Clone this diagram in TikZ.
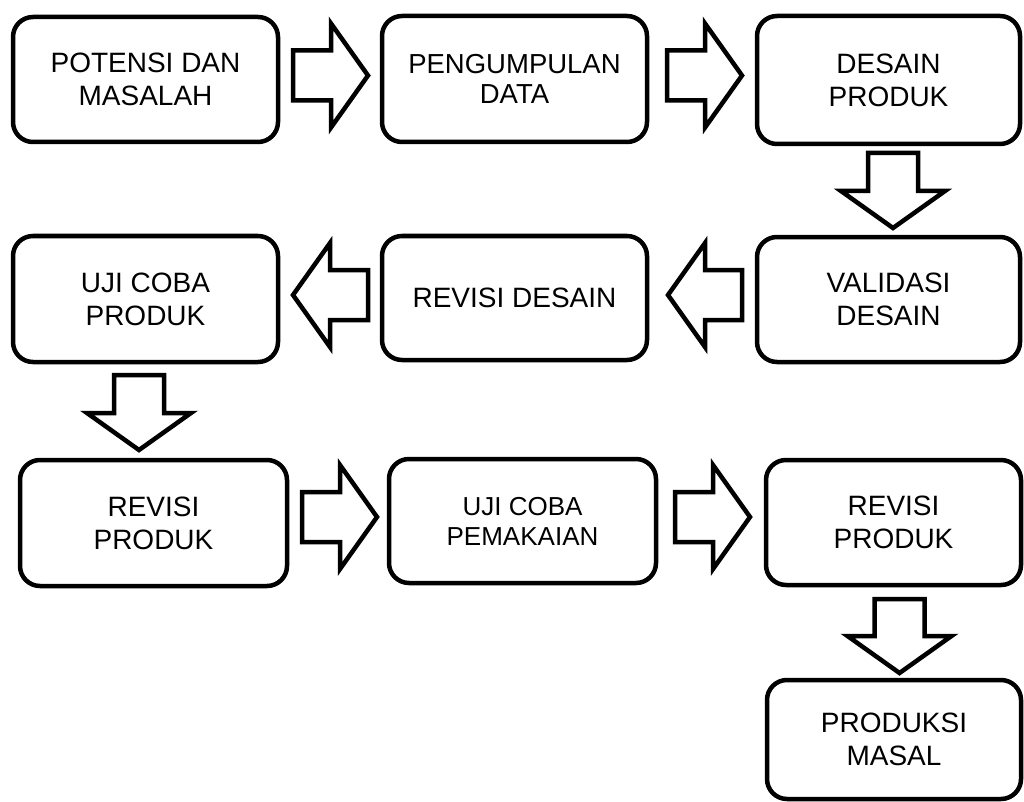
\documentclass[tikz,border=0pt]{standalone}
\usepackage{fontspec}
\setmainfont{Liberation Sans}
\usetikzlibrary{calc}
\tikzset{
  box/.style={draw, line width=4.5pt, rounded corners=20pt, outer sep=0pt, inner sep=0pt,
    align=center, font=\fontsize{28}{33}\selectfont},
  midtext/.style={font=\fontsize{27.5}{30}\selectfont},
  smalltext/.style={font=\fontsize{26}{30}\selectfont},
  blk/.style={draw, line width=4.5pt, fill=white, line join=miter, miter limit=10},
}
\newcommand{\blockarrow}[2]{%
  \coordinate (hb) at ($(#2)!37pt!(#1)$);
  \draw[blk] ($(#1)!25pt!90:(#2)$) -- ($(hb)!25pt!90:(#2)$) -- ($(hb)!52pt!90:(#2)$) -- (#2)
    -- ($(hb)!52pt!-90:(#2)$) -- ($(hb)!25pt!-90:(#2)$) -- ($(#1)!25pt!-90:(#2)$) -- cycle;
}
\begin{document}
\begin{tikzpicture}[x=1pt, y=-1pt]
\useasboundingbox (0,0) rectangle (1024,802);
% row 1
\node[box, minimum width=265pt, minimum height=125pt] (A) at (145.5,79.5) {POTENSI DAN\\MASALAH};
\node[box, midtext, minimum width=265pt, minimum height=126pt] (B) at (514.5,79) {PENGUMPULAN\\DATA};
\node[box, minimum width=263pt, minimum height=128pt] (C) at (888.5,80) {DESAIN\\PRODUK};
% row 2
\node[box, minimum width=265pt, minimum height=126pt] (D) at (145.5,299) {UJI COBA\\PRODUK};
\node[box, minimum width=265pt, minimum height=124pt] (E) at (514.5,298) {REVISI DESAIN};
\node[box, minimum width=263pt, minimum height=125pt] (F) at (888.5,299.5) {VALIDASI\\DESAIN};
% row 3
\node[box, minimum width=267pt, minimum height=126pt] (G) at (153.5,523) {REVISI\\PRODUK};
\node[box, smalltext, minimum width=267pt, minimum height=124pt] (H) at (522.5,521) {UJI COBA\\PEMAKAIAN};
\node[box, minimum width=255pt, minimum height=125pt] (I) at (893.5,522.5) {REVISI\\PRODUK};
% row 4
\node[box, minimum width=254pt, minimum height=119pt] (J) at (894,739.5) {PRODUKSI\\MASAL};
% arrow end points
\coordinate (t1) at ($(A.east)+(15,-4)$);   \coordinate (p1) at ($(B.west)+(-14,-3.5)$);
\coordinate (t2) at ($(B.east)+(20,-3.5)$); \coordinate (p2) at ($(C.west)+(-15,-4.5)$);
\coordinate (t3) at ($(C.south)+(4.5,9)$);  \coordinate (p3) at ($(F.north)+(4.5,-9)$);
\coordinate (t4) at ($(F.west)+(-15,-4.5)$);\coordinate (p4) at ($(E.east)+(21,-3)$);
\coordinate (t5) at ($(E.west)+(-14,-3)$);  \coordinate (p5) at ($(D.east)+(15,-4)$);
\coordinate (t6) at ($(D.south)+(-6.5,13)$);\coordinate (p6) at ($(G.north)+(-14.5,-10)$);
\coordinate (t7) at ($(G.east)+(15,-6)$);   \coordinate (p7) at ($(H.west)+(-12,-4)$);
\coordinate (t8) at ($(H.east)+(19,-4)$);   \coordinate (p8) at ($(I.west)+(-16,-5.5)$);
\coordinate (t9) at ($(I.south)+(6,14)$);   \coordinate (p9) at ($(J.north)+(5.5,-7)$);
\blockarrow{t1}{p1}
\blockarrow{t2}{p2}
\blockarrow{t3}{p3}
\blockarrow{t4}{p4}
\blockarrow{t5}{p5}
\blockarrow{t6}{p6}
\blockarrow{t7}{p7}
\blockarrow{t8}{p8}
\blockarrow{t9}{p9}
\end{tikzpicture}
\end{document}
